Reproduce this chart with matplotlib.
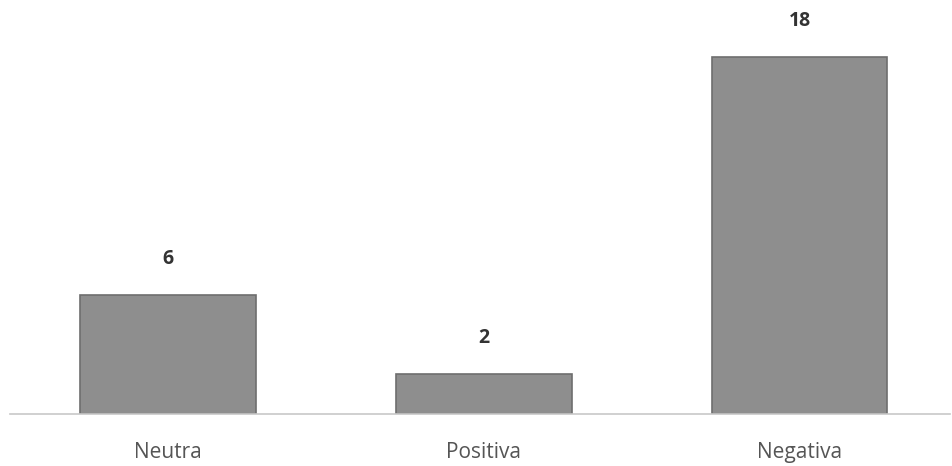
import matplotlib
matplotlib.use("Agg")
import matplotlib.pyplot as plt

categories = ["Neutra", "Positiva", "Negativa"]
counts = [6, 2, 18]

fig = plt.figure(figsize=(9.53, 4.66), dpi=100)
ax = fig.add_axes([10 / 953, 52 / 466, 940 / 953, 414 / 466])

x = list(range(len(categories)))
ax.bar(x, counts, width=0.557, color="#8e8e8e", edgecolor="#6e6e6e", linewidth=1.2, zorder=2)

ax.set_xlim(-0.5004, 2.4766)
ax.set_ylim(0, 18 * 414 / 357)

for xi, v in zip(x, counts):
    ax.annotate(str(v), (xi, v), xytext=(0, 26), textcoords="offset points",
                ha="center", va="center", fontsize=14, fontweight="bold",
                color="#333333", family="Open Sans")

for s in ["top", "right", "left"]:
    ax.spines[s].set_visible(False)
ax.spines["bottom"].set_color("#c8c8c8")
ax.spines["bottom"].set_linewidth(1.2)
ax.set_yticks([])
ax.set_xticks(x)
ax.set_xticklabels(categories, fontsize=15, color="#555555", family="Open Sans")
ax.tick_params(axis="x", length=0, pad=20)

fig.savefig("out.png", dpi=100)
